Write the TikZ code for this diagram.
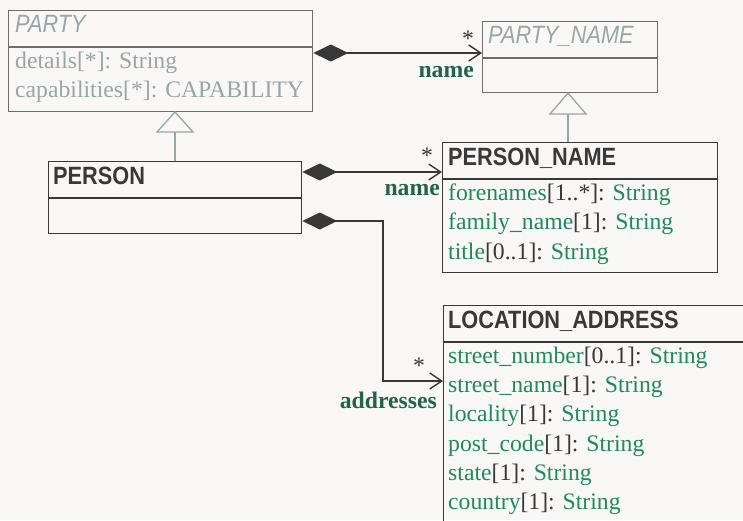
\documentclass[tikz,border=0pt]{standalone}
\usepackage{fontspec}
\setmainfont{Liberation Serif}
\newfontfamily\clsfont[FakeStretch=0.87]{Liberation Sans}
\usetikzlibrary{arrows.meta}
\definecolor{bgc}{HTML}{F9F8F7}
\definecolor{ink}{HTML}{383838}
\definecolor{attgreen}{HTML}{1F8A5E}
\definecolor{rolegreen}{HTML}{22644A}
\definecolor{absgray}{HTML}{9AA5A8}
\definecolor{absline}{HTML}{6E6E6E}
\newcommand{\attr}[3]{{\color{attgreen}#1}{\color{ink}[#2]:} {\color{attgreen}#3}}
\tikzset{
  classbox/.style={draw=ink, line width=1.3pt, rectangle, anchor=north west, inner sep=0pt},
  absbox/.style={classbox, draw=absline},
  clsname/.style={anchor=base west, inner sep=0pt, text=ink, font=\clsfont\bfseries\fontsize{25}{30}\selectfont},
  absname/.style={anchor=base west, inner sep=0pt, text=absgray, font=\clsfont\itshape\fontsize{25}{30}\selectfont},
  attrtext/.style={anchor=base west, inner sep=0pt, font=\fontsize{23.7}{29}\selectfont},
  rolelabel/.style={anchor=base east, inner sep=0pt, text=rolegreen, font=\bfseries\fontsize{23.7}{29}\selectfont},
  multlabel/.style={anchor=base, inner sep=0pt, text=ink, font=\fontsize{23.7}{29}\selectfont},
  composition/.style={draw=ink, line width=1.8pt,
    {Diamond[length=35pt,width=17pt,fill=ink]}-{Straight Barb[length=12pt,width=16pt,line width=1.4pt]}},
  inherit/.style={draw=absgray, line width=1.3pt},
  inhtri/.style={draw=absgray, line width=1.3pt, fill=bgc}
}
\begin{document}
\begin{tikzpicture}[x=1pt,y=-1pt]
  \useasboundingbox (0,0) rectangle (743,520);
  \fill[bgc] (0,0) rectangle (743,520);
  \clip (0,0) rectangle (743,520);

  % PARTY (abstract)
  \node[absbox, minimum width=304pt, minimum height=101pt] (party) at (8,10) {};
  \draw[absline, line width=1.3pt] (party.west |- 0,47) -- (party.east |- 0,47);
  \node[absname] (partyT) at (15,32) {PARTY};
  \node[attrtext, text=absgray] (partyA1) at (15,68) {details[*]: String};
  \node[attrtext, text=absgray] (partyA2) at (15,97) {capabilities[*]: CAPABILITY};

  % PARTY_NAME (abstract)
  \node[absbox, minimum width=175pt, minimum height=71pt] (pname) at (482,21) {};
  \draw[absline, line width=1.3pt] (pname.west |- 0,58) -- (pname.east |- 0,58);
  \node[absname] (pnameT) at (488,43) {PARTY\_NAME};

  % PERSON
  \node[classbox, minimum width=253pt, minimum height=72pt] (person) at (48,161) {};
  \draw[ink, line width=1.3pt] (person.west |- 0,198) -- (person.east |- 0,198);
  \node[clsname] (personT) at (53,184) {PERSON};

  % PERSON_NAME
  \node[classbox, minimum width=275pt, minimum height=130pt] (personname) at (442,142) {};
  \draw[ink, line width=1.3pt] (personname.west |- 0,179) -- (personname.east |- 0,179);
  \node[clsname] (personnameT) at (448,165) {PERSON\_NAME};
  \node[attrtext] (pnA1) at (448,200) {\attr{forenames}{1..*}{String}};
  \node[attrtext] (pnA2) at (448,229) {\attr{family\_name}{1}{String}};
  \node[attrtext] (pnA3) at (448,259) {\attr{title}{0..1}{String}};

  % LOCATION_ADDRESS (continues past the right and lower edges)
  \node[classbox, minimum width=330pt, minimum height=240pt] (locaddr) at (443,305) {};
  \draw[ink, line width=1.3pt] (locaddr.west |- 0,342) -- (locaddr.east |- 0,342);
  \node[clsname] (locaddrT) at (448,328) {LOCATION\_ADDRESS};
  \node[attrtext] (laA1) at (448,363) {\attr{street\_number}{0..1}{String}};
  \node[attrtext] (laA2) at (448,392) {\attr{street\_name}{1}{String}};
  \node[attrtext] (laA3) at (448,421) {\attr{locality}{1}{String}};
  \node[attrtext] (laA4) at (448,451) {\attr{post\_code}{1}{String}};
  \node[attrtext] (laA5) at (448,480) {\attr{state}{1}{String}};
  \node[attrtext] (laA6) at (448,509) {\attr{country}{1}{String}};

  % generalisation PERSON -> PARTY
  \coordinate (t1apex) at (175,112);
  \coordinate (t1base) at (175,132);
  \draw[inherit] (t1base) -- (person.north -| t1base);
  \draw[inhtri] (t1apex) -- (157,132) -- (193,132) -- cycle;

  % generalisation PERSON_NAME -> PARTY_NAME
  \coordinate (t2apex) at (568,93);
  \coordinate (t2base) at (568,114);
  \draw[inherit] (t2base) -- (personname.north -| t2base);
  \draw[inhtri] (t2apex) -- (550,114) -- (586,114) -- cycle;

  % compositions
  \draw[composition] (party.east |- 0,53) -- (pname.west |- 0,53);
  \node[multlabel] (m1) at (468,46) {*};
  \node[rolelabel] (r1) at (474,77) {name};

  \draw[composition] (person.east |- 0,172) -- (personname.west |- 0,172);
  \node[multlabel] (m2) at (427,163) {*};
  \node[rolelabel] (r2) at (440,195) {name};

  \draw[composition] (person.east |- 0,221) -- (383,221) -- (383,381) -- (locaddr.west |- 0,381);
  \node[multlabel] (m3) at (419,373) {*};
  \node[rolelabel] (r3) at (437,408) {addresses};
\end{tikzpicture}
\end{document}
